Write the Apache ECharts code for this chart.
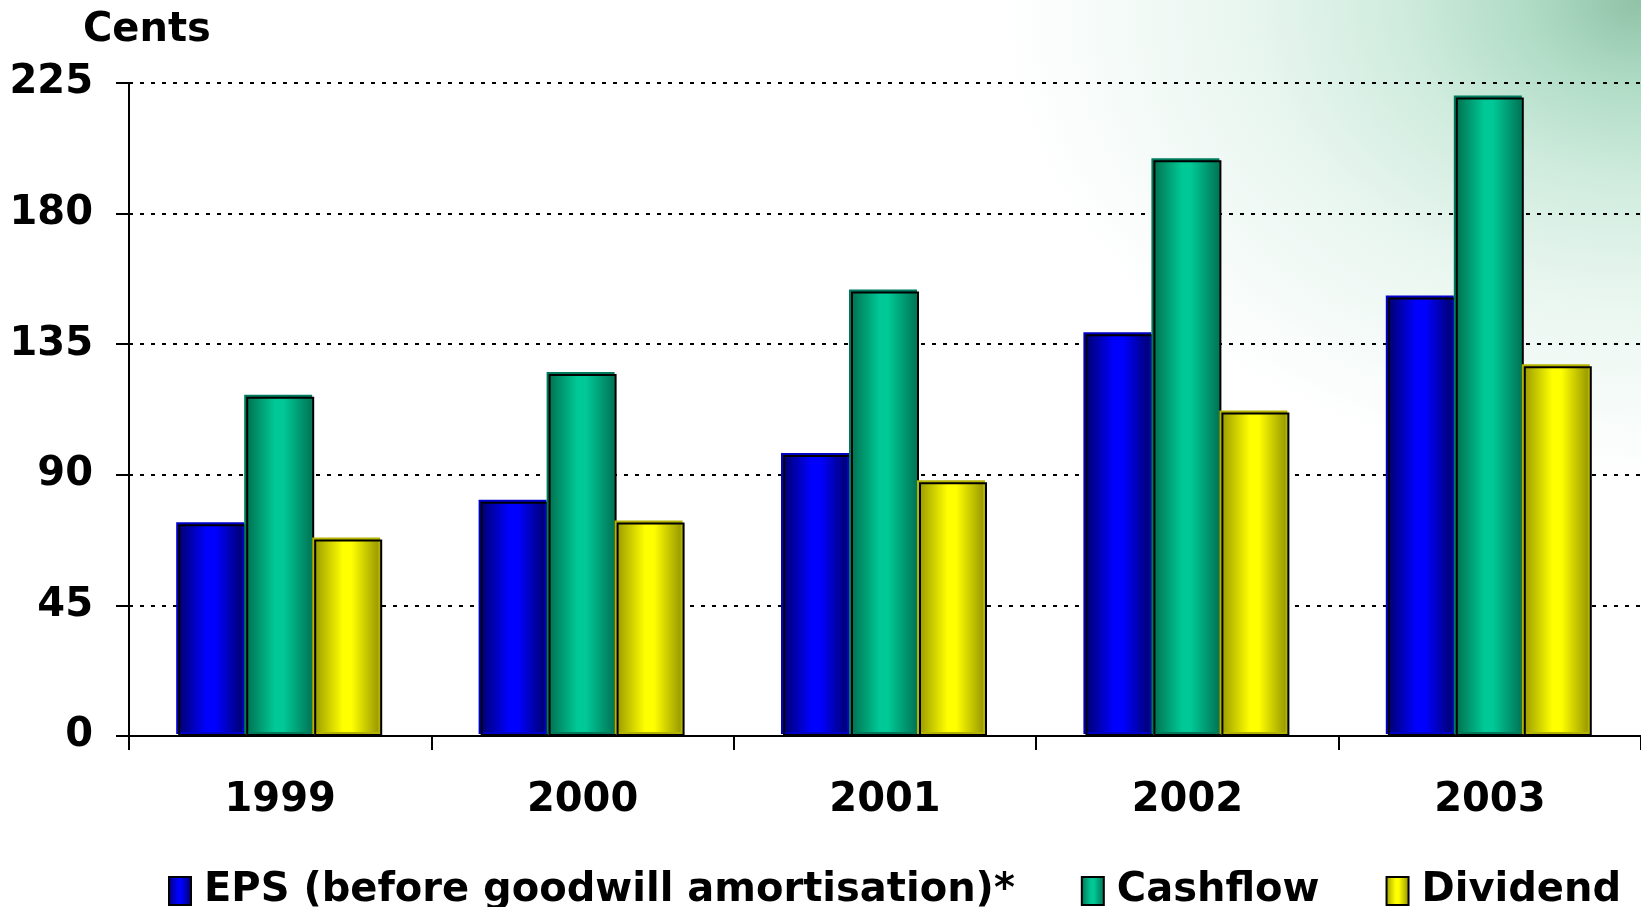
<!DOCTYPE html>
<html>
<head>
<meta charset="utf-8">
<title>EPS, Cashflow and Dividend per share</title>
<script src="https://cdn.jsdelivr.net/npm/echarts@6/dist/echarts.min.js"></script>
<style>
  html, body { margin: 0; padding: 0; }
  body {
    width: 1641px; height: 907px; overflow: hidden;
    background:
      radial-gradient(ellipse 640px 480px at 100% 0%, #8fc2a6 0%, #b0dcc6 18%, #d0ecde 38%, #e9f6f0 62%, rgba(255,255,255,0) 100%),
      #ffffff;
  }
  #chart { width: 1641px; height: 907px; }
</style>
</head>
<body>
<div id="chart"></div>
<script>
// Per-share figures in cents
const years = ['1999', '2000', '2001', '2002', '2003'];
const eps = [73.0, 80.7, 96.8, 138.4, 151.1];
const cashflow = [116.9, 124.7, 153.2, 198.4, 220.0];
const dividend = [67.7, 73.6, 87.4, 111.5, 127.4];
const seriesNames = ['EPS (before goodwill amortisation)*', 'Cashflow', 'Dividend'];
const yTicks = { min: 0, max: 225, step: 45 };

const FONT = 'Verdana, "DejaVu Sans", sans-serif';

// Cylinder-like horizontal shading: dark edges, bright centre
function shade(edgeL, mid, edgeR) {
  return {
    type: 'linear', x: 0, y: 0, x2: 1, y2: 0,
    colorStops: [
      { offset: 0, color: edgeL },
      { offset: 0.42, color: mid },
      { offset: 0.55, color: mid },
      { offset: 1, color: edgeR }
    ]
  };
}

const palette = [
  { fill: shade('#00006e', '#0000ff', '#000060'), rim: '#0000c8' },
  { fill: shade('#00704f', '#00c896', '#006e50'), rim: '#007a5c' },
  { fill: shade('#9a9a00', '#ffff00', '#8c8c00'), rim: '#b4b400' }
];

function barSeries(name, data, i) {
  return {
    name: name,
    type: 'bar',
    data: data,
    barWidth: 68,
    barGap: '0%',
    itemStyle: {
      color: palette[i].fill,
      borderColor: '#000',
      borderWidth: 2,
      shadowColor: palette[i].rim,
      shadowOffsetX: -2,
      shadowOffsetY: -2,
      shadowBlur: 0
    },
    emphasis: { disabled: true }
  };
}

const chart = echarts.init(document.getElementById('chart'), null, { renderer: 'canvas' });
chart.setOption({
  animation: false,
  backgroundColor: 'transparent',
  title: {
    text: 'Cents',
    left: 78,
    top: 6,
    textStyle: { fontFamily: FONT, fontWeight: 'bold', fontSize: 40, color: '#000' }
  },
  legend: {
    data: seriesNames,
    icon: 'rect',
    left: 163,
    top: 866,
    itemWidth: 22,
    itemHeight: 28,
    itemGap: 66,
    textStyle: {
      fontFamily: FONT, fontWeight: 'bold', fontSize: 40, color: '#000',
      padding: [0, 0, 0, 8]
    }
  },
  grid: { left: 129, right: -3, top: 83, bottom: 171, containLabel: false },
  xAxis: {
    type: 'category',
    data: years,
    boundaryGap: true,
    axisLine: { show: true, lineStyle: { color: '#000', width: 2 } },
    axisTick: { show: true, length: 14, lineStyle: { color: '#000', width: 2 } },
    axisLabel: {
      margin: 45,
      fontFamily: FONT, fontWeight: 'bold', fontSize: 40, color: '#000'
    },
    splitLine: { show: false }
  },
  yAxis: {
    type: 'value',
    min: yTicks.min,
    max: yTicks.max,
    interval: yTicks.step,
    axisLine: { show: true, lineStyle: { color: '#000', width: 2 } },
    axisTick: { show: true, length: 13, lineStyle: { color: '#000', width: 2 } },
    axisLabel: {
      margin: 36,
      fontFamily: FONT, fontWeight: 'bold', fontSize: 40, color: '#000'
    },
    splitLine: {
      show: true,
      lineStyle: { color: '#000', width: 2, type: [4, 7] }
    }
  },
  series: [
    barSeries(seriesNames[0], eps, 0),
    barSeries(seriesNames[1], cashflow, 1),
    barSeries(seriesNames[2], dividend, 2)
  ]
});
</script>
</body>
</html>
